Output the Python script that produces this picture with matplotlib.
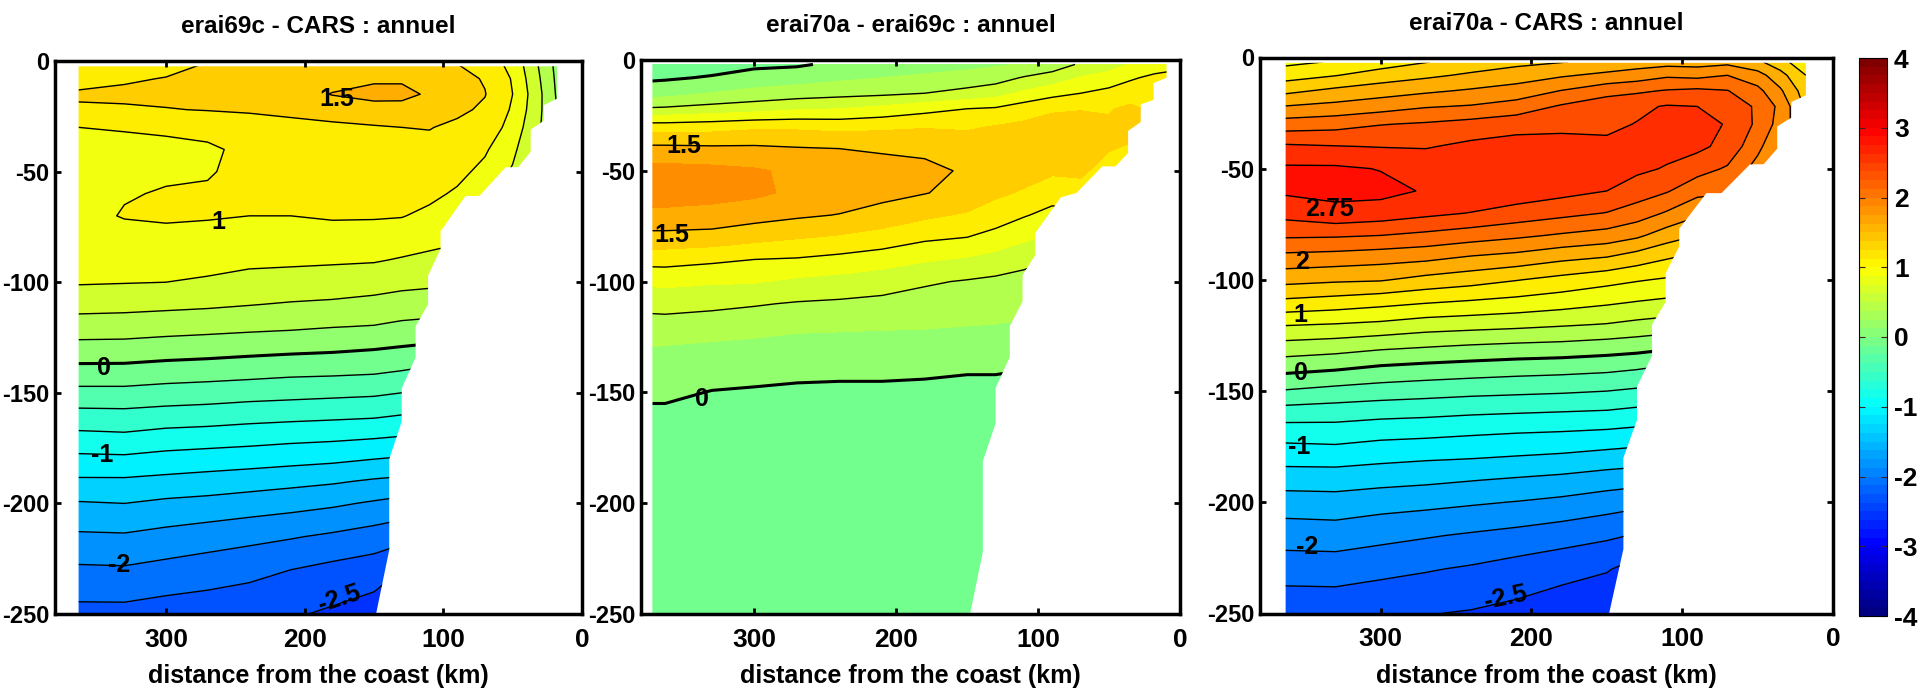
import numpy as np
import matplotlib
matplotlib.use('Agg')
import matplotlib.pyplot as plt
from matplotlib.colors import LinearSegmentedColormap, Normalize
from matplotlib.cm import ScalarMappable
from matplotlib.patches import Polygon

plt.rcParams['font.family'] = ['Liberation Sans', 'DejaVu Sans']
plt.rcParams['font.weight'] = 'bold'
plt.rcParams['axes.labelweight'] = 'bold'
plt.rcParams['axes.unicode_minus'] = False

# stations (km from the coast) and depths (m)
km = [363, 330, 300, 270, 240, 210, 180, 150, 130, 110, 90, 70, 50, 35, 18]
km_wide = [372] + km + [9]
depth = [2, 8, 15, 22, 30, 40, 50, 60, 70, 80, 90, 100, 110, 120, 130, 140, 150,
         160, 170, 180, 190, 200, 215, 230, 250]
n = np.nan

# erai69c - CARS, one row per depth
cars_69c = [
    [1.08, 1.12, 1.18, 1.27, 1.30, 1.33, 1.36, 1.38, 1.40, 1.38, 1.26, 1.15, 0.93, 0.58, 0.18],
    [1.17, 1.22, 1.26, 1.31, 1.34, 1.38, 1.42, 1.46, 1.47, 1.44, 1.33, 1.23, 0.98, 0.62, 0.20],
    [1.28, 1.30, 1.31, 1.33, 1.36, 1.40, 1.51, 1.58, 1.56, 1.47, 1.37, 1.26, 1.00, 0.66, 0.22],
    [1.22, 1.22, 1.24, 1.26, 1.27, 1.29, 1.36, 1.40, 1.42, 1.38, 1.30, 1.21, 0.97, 0.64, 0.25],
    [1.00, 1.01, 1.04, 1.08, 1.17, 1.20, 1.20, 1.23, 1.25, 1.26, 1.20, 1.15, 0.91, 0.59, 0.30],
    [0.97, 0.96, 0.94, 0.96, 1.06, 1.14, 1.15, 1.17, 1.18, 1.18, 1.12, 1.03, 0.81, 0.52, 0.30],
    [0.95, 0.97, 0.96, 0.98, 1.07, 1.12, 1.12, 1.13, 1.13, 1.12, 1.06, 0.94, 0.72, 0.45, n],
    [0.93, 0.98, 1.02, 1.03, 1.06, 1.07, 1.07, 1.08, 1.08, 1.05, 0.97, 0.86, 0.65, n, n],
    [0.90, 1.02, 1.04, 1.02, 1.00, 1.00, 1.02, 1.02, 1.01, 0.95, 0.88, 0.80, n, n, n],
    [0.87, 0.88, 0.92, 0.92, 0.90, 0.90, 0.92, 0.90, 0.88, 0.82, 0.78, 0.72, n, n, n],
    [0.82, 0.84, 0.85, 0.83, 0.79, 0.79, 0.78, 0.77, 0.73, 0.70, 0.68, n, n, n, n],
    [0.77, 0.76, 0.75, 0.72, 0.69, 0.66, 0.64, 0.60, 0.57, 0.55, 0.55, n, n, n, n],
    [0.60, 0.58, 0.56, 0.54, 0.51, 0.48, 0.46, 0.43, 0.39, 0.37, 0.38, n, n, n, n],
    [0.37, 0.37, 0.35, 0.33, 0.31, 0.29, 0.26, 0.24, 0.20, 0.18, n, n, n, n, n],
    [0.17, 0.16, 0.13, 0.11, 0.08, 0.06, 0.04, 0.01, -0.02, -0.05, n, n, n, n, n],
    [-0.08, -0.08, -0.11, -0.13, -0.15, -0.18, -0.19, -0.21, -0.25, -0.30, n, n, n, n, n],
    [-0.32, -0.32, -0.35, -0.37, -0.40, -0.42, -0.44, -0.46, -0.50, -0.55, n, n, n, n, n],
    [-0.58, -0.57, -0.60, -0.62, -0.65, -0.67, -0.69, -0.71, -0.75, n, n, n, n, n, n],
    [-0.82, -0.80, -0.85, -0.87, -0.90, -0.93, -0.95, -0.98, -1.01, n, n, n, n, n, n],
    [-1.06, -1.05, -1.09, -1.12, -1.14, -1.17, -1.20, -1.25, -1.28, n, n, n, n, n, n],
    [-1.29, -1.29, -1.32, -1.35, -1.39, -1.43, -1.47, -1.53, -1.56, n, n, n, n, n, n],
    [-1.52, -1.50, -1.55, -1.58, -1.62, -1.66, -1.71, -1.78, -1.83, n, n, n, n, n, n],
    [-1.79, -1.78, -1.83, -1.88, -1.93, -1.98, -2.04, -2.11, -2.17, n, n, n, n, n, n],
    [-2.04, -2.03, -2.08, -2.13, -2.18, -2.25, -2.32, -2.38, -2.50, n, n, n, n, n, n],
    [-2.33, -2.33, -2.37, -2.39, -2.42, -2.47, -2.54, -2.62, -2.80, n, n, n, n, n, n],
]

# erai70a - erai69c, on the wider section
d70a_69c = [
    [-0.15, -0.14, -0.10, -0.05, -0.03, 0.05, 0.10, 0.13, 0.18, 0.22, 0.27, 0.38, 0.53, 0.62, 0.77, 0.88, 0.90],
    [-0.04, -0.03, 0.02, 0.10, 0.14, 0.20, 0.25, 0.30, 0.35, 0.40, 0.52, 0.60, 0.77, 0.87, 0.97, 1.05, 1.08],
    [0.15, 0.16, 0.26, 0.33, 0.38, 0.42, 0.45, 0.50, 0.58, 0.65, 0.80, 0.93, 1.00, 1.07, 1.13, 1.15, 1.12],
    [0.53, 0.54, 0.60, 0.65, 0.72, 0.75, 0.82, 0.92, 1.00, 1.03, 1.14, 1.20, 1.24, 1.23, 1.30, 1.20, n],
    [1.12, 1.12, 1.15, 1.20, 1.20, 1.17, 1.20, 1.23, 1.22, 1.26, 1.30, 1.40, 1.33, 1.29, 1.31, 1.22, n],
    [1.57, 1.57, 1.55, 1.55, 1.52, 1.50, 1.47, 1.45, 1.38, 1.40, 1.40, 1.44, 1.39, 1.26, 1.23, 1.15, n],
    [1.84, 1.84, 1.82, 1.78, 1.70, 1.64, 1.60, 1.56, 1.47, 1.42, 1.36, 1.29, 1.28, 1.18, 1.15, n, n],
    [1.86, 1.86, 1.83, 1.80, 1.70, 1.65, 1.58, 1.51, 1.42, 1.30, 1.22, 1.11, 1.19, 1.05, n, n, n],
    [1.69, 1.69, 1.67, 1.60, 1.54, 1.49, 1.40, 1.30, 1.22, 1.12, 1.02, 0.92, 0.95, n, n, n, n],
    [1.42, 1.42, 1.40, 1.33, 1.27, 1.22, 1.15, 1.05, 1.00, 0.92, 0.80, 0.72, 0.75, n, n, n, n],
    [1.10, 1.10, 1.05, 1.00, 0.98, 0.93, 0.87, 0.78, 0.72, 0.65, 0.57, 0.50, n, n, n, n, n],
    [0.80, 0.81, 0.78, 0.77, 0.70, 0.66, 0.60, 0.53, 0.48, 0.45, 0.42, 0.38, n, n, n, n, n],
    [0.58, 0.59, 0.56, 0.52, 0.48, 0.46, 0.44, 0.40, 0.36, 0.35, 0.33, 0.30, n, n, n, n, n],
    [0.40, 0.40, 0.37, 0.35, 0.30, 0.29, 0.28, 0.27, 0.25, 0.24, 0.22, n, n, n, n, n, n],
    [0.24, 0.23, 0.20, 0.17, 0.15, 0.14, 0.13, 0.13, 0.12, 0.12, 0.10, n, n, n, n, n, n],
    [0.15, 0.15, 0.10, 0.06, 0.04, 0.03, 0.03, 0.02, 0.01, 0.01, 0.00, n, n, n, n, n, n],
    [0.05, 0.05, -0.01, -0.02, -0.03, -0.03, -0.03, -0.03, -0.04, -0.04, -0.05, n, n, n, n, n, n],
    [-0.05, -0.05, -0.08, -0.08, -0.08, -0.08, -0.08, -0.08, -0.08, -0.08, n, n, n, n, n, n, n],
    [-0.10, -0.10, -0.10, -0.10, -0.10, -0.10, -0.10, -0.10, -0.10, -0.10, n, n, n, n, n, n, n],
    [-0.10, -0.10, -0.10, -0.10, -0.10, -0.10, -0.10, -0.10, -0.10, -0.10, n, n, n, n, n, n, n],
    [-0.10, -0.10, -0.10, -0.10, -0.10, -0.10, -0.10, -0.10, -0.10, -0.10, n, n, n, n, n, n, n],
    [-0.10, -0.10, -0.10, -0.10, -0.10, -0.10, -0.10, -0.10, -0.10, -0.10, n, n, n, n, n, n, n],
    [-0.10, -0.10, -0.10, -0.10, -0.10, -0.10, -0.10, -0.10, -0.10, -0.10, n, n, n, n, n, n, n],
    [-0.10, -0.10, -0.10, -0.10, -0.10, -0.10, -0.10, -0.10, -0.10, -0.10, n, n, n, n, n, n, n],
    [-0.10, -0.10, -0.10, -0.10, -0.10, -0.10, -0.10, -0.10, -0.10, -0.10, n, n, n, n, n, n, n],
]

# seabed outline of the section, offshore side is closed in panel()
shelf_km = [18, 18, 27.6, 27.6, 37, 37, 46, 55, 74, 84, 102, 102, 111, 111, 120, 120, 130, 130, 139, 139, 148.5]
shelf_z = [2.4, 17, 20, 27, 31, 41, 48, 48, 61, 61, 77, 85, 97, 110, 120, 134, 148, 163, 180, 221, 250]
wide_km = [9.5, 9.5, 18.6, 18.6, 27.7, 27.7, 36.6, 36.6, 45.5, 54.7, 73, 84, 102, 102, 111, 111, 120, 120, 130, 130, 139, 139, 148]
wide_z = [1.8, 8, 10.4, 18, 20, 28, 32, 42, 48, 48, 60, 62, 78, 88, 97, 109, 120, 134, 148, 164, 181, 222, 250]

titles = ['erai69c - CARS : annuel', 'erai70a - erai69c : annuel', 'erai70a - CARS : annuel']
xlabel = 'distance from the coast (km)'
xticks = [300, 200, 100, 0]
yticks = [0, -50, -100, -150, -200, -250]
cticks = [-4, -3, -2, -1, 0, 1, 2, 3, 4]

labels_1 = [('1.5', 177, -17, 0), ('1', 262, -73, 0), ('0', 345, -139, 0), ('-1', 346, -178, 0),
            ('-2', 334, -228, 0), ('-2.5', 175, -243, 18)]
labels_2 = [('1.5', 350, -39, 0), ('1.5', 358, -79, 0), ('0', 337, -153, 0)]
labels_3 = [('2.75', 334, -68, 0), ('2', 352, -92, 0), ('1', 353, -116, 0), ('0', 353, -142, 0),
            ('-1', 354, -175, 0), ('-2', 349, -220, 0), ('-2.5', 217, -243, 12)]

# matlab style jet: yellow sits at +1 and cyan at -1
jet = LinearSegmentedColormap.from_list('mjet', [
    (0, (0, 0, 0.5)), (1/8, (0, 0, 1)), (3/8, (0, 1, 1)),
    (5/8, (1, 1, 0)), (7/8, (1, 0, 0)), (1, (0.5, 0, 0))], N=256)
norm = Normalize(-4, 4)
W, H = 1920, 691


def px_axes(fig, left, top, right, bottom):
    return fig.add_axes([left/W, 1 - bottom/H, (right-left)/W, (bottom-top)/H])


def panel(ax, x, values, top_z, edge_km, edge_z, left_km, line_levels, labels, title, y_title):
    X, Z = np.meshgrid(x, -np.array(depth, dtype=float))
    V = np.ma.masked_invalid(np.array(values, dtype=float))
    outline = [(left_km, -top_z), (edge_km[0], -top_z)] + [(a, -b) for a, b in zip(edge_km, edge_z)] + [(left_km, -250)]
    clip = Polygon(outline, closed=True, transform=ax.transData, fc='none', ec='none')
    ax.add_patch(clip)

    cf = ax.contourf(X, Z, V, levels=np.arange(-4, 4.01, 0.25), cmap=jet, norm=norm)
    cf.set_clip_path(clip)
    thin = [l for l in line_levels if l != 0]
    cl = ax.contour(X, Z, V, levels=thin, colors='k', linewidths=1.0, linestyles='solid')
    cl.set_clip_path(clip)
    c0 = ax.contour(X, Z, V, levels=[0], colors='k', linewidths=2.2, linestyles='solid')
    c0.set_clip_path(clip)

    for txt, xk, zk, rot in labels:
        ax.text(xk, zk, txt, fontsize=18, ha='center', va='center', rotation=rot, color='k')

    ax.set_xlim(380, 0)
    ax.set_ylim(-250, 0)
    ax.set_xticks(xticks)
    ax.set_yticks(yticks)
    ax.tick_params(direction='in', length=4, width=2, top=True, right=True)
    ax.tick_params(axis='x', labelsize=19, pad=10)
    ax.tick_params(axis='y', labelsize=17, pad=4)
    for s in ax.spines.values():
        s.set_linewidth(2.5)
    ax.set_xlabel(xlabel, fontsize=18, labelpad=9)
    ax.text(0.5, y_title, title, transform=ax.transAxes, ha='center', va='center', fontsize=17.5)


fig = plt.figure(figsize=(W/100, H/100), dpi=100)

ax1 = px_axes(fig, 55, 61, 582, 614)
ax2 = px_axes(fig, 641, 60, 1180, 614)
ax3 = px_axes(fig, 1260, 57.5, 1833, 613.5)

fine = np.arange(-3, 3.01, 0.25)
coarse = np.arange(-3, 3.01, 0.5)
sum_70a = np.array(cars_69c) + np.array(d70a_69c)[:, 1:-1]

panel(ax1, km, cars_69c, 2.4, shelf_km, shelf_z, 363, fine, labels_1, titles[0], 1.062)
panel(ax2, km_wide, d70a_69c, 1.0, wide_km, wide_z, 372, coarse, labels_2, titles[1], 1.062)
panel(ax3, km, sum_70a, 2.4, shelf_km, shelf_z, 363, fine, labels_3, titles[2], 1.062)

cax = px_axes(fig, 1858.5, 58, 1887, 616)
cb = fig.colorbar(ScalarMappable(norm=norm, cmap=jet.resampled(64)), cax=cax)
cb.set_ticks(cticks)
cb.ax.tick_params(direction='in', length=4, width=0.8, left=True, right=True, labelsize=19, pad=5, color='#402020')
cb.outline.set_linewidth(0.8)

fig.savefig('out.png', dpi=100)
